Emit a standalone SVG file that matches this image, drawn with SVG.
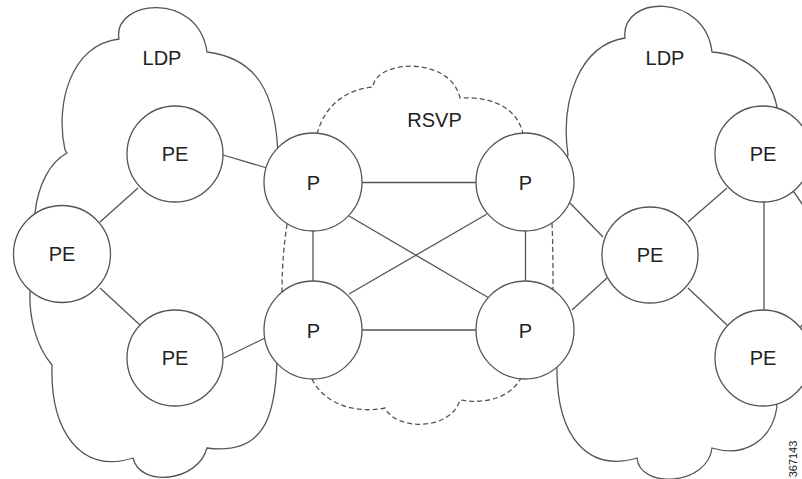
<svg xmlns="http://www.w3.org/2000/svg" width="802" height="479" viewBox="0 0 802 479">
<style>
.cloud{fill:none;stroke:#555;stroke-width:1.3}
.dash{fill:none;stroke:#555;stroke-width:1.3;stroke-dasharray:5,3}
.edge{stroke:#555;stroke-width:1.3}
.node circle{fill:#fff;stroke:#555;stroke-width:1.3}
.lbl{font-family:"Liberation Sans",Arial,sans-serif;font-size:20px;fill:#222;text-anchor:middle}
</style>
<rect width="802" height="479" fill="#fff"/>
<g id="clouds">
<path id="ldp-left-cloud" class="cloud" d="M277,358 C276,420 262,455 207,448 C198,482 140,488 133,458 C80,475 50,430 52,365 C35,345 29,315 30,292 L35,213 C38,185 50,162 67,153 L65,150 C55,105 70,45 119,39 C112,0 198,-10 207,52 C255,58 277,90 278,160"/>
<path id="ldp-right-cloud" class="cloud" d="M565,162 L568,155 C560,100 580,45 625,38 C620,-5 705,-8 712,52 C750,55 775,80 778,115"/>
<path class="cloud" d="M788,185 C828,230 828,290 796,334"/>
<path class="cloud" d="M775,400 L777,407 C772,440 745,458 712,448 C708,485 640,490 637,458 C590,472 555,440 557,362"/>
<path id="rsvp-cloud" class="dash" d="M317,134 C325,105 345,90 373,87 C375,60 450,55 460,98 C495,96 518,110 523,134"/>
<path class="dash" d="M287,224 C284,245 282,265 282,292"/>
<path class="dash" d="M552,223 C553,245 553,268 553,290"/>
<path class="dash" d="M312,379 C322,400 350,415 385,408 C395,430 450,432 460,400 C490,405 512,395 521,378"/>
</g>
<g id="connectors">
<line class="edge" x1="223" y1="155" x2="267" y2="168"/>
<line class="edge" x1="138" y1="188" x2="100" y2="222"/>
<line class="edge" x1="100" y1="288" x2="140" y2="325"/>
<line class="edge" x1="224" y1="358" x2="265" y2="338"/>
<line class="edge" x1="362" y1="182.5" x2="477" y2="182.5"/>
<line class="edge" x1="362" y1="330" x2="477" y2="330"/>
<line class="edge" x1="313" y1="231" x2="313" y2="282"/>
<line class="edge" x1="525.5" y1="231" x2="525.5" y2="282"/>
<line class="edge" x1="349" y1="216" x2="489" y2="298"/>
<line class="edge" x1="487" y1="214" x2="349" y2="294"/>
<line class="edge" x1="570" y1="203" x2="603" y2="237"/>
<line class="edge" x1="572" y1="310" x2="607" y2="278"/>
<line class="edge" x1="688" y1="222" x2="727" y2="188"/>
<line class="edge" x1="688" y1="288" x2="727" y2="325"/>
<line class="edge" x1="764" y1="202" x2="764" y2="310"/>
</g>
<g id="pe-top-left" class="node"><circle cx="175" cy="154" r="48"/><text class="lbl" x="175" y="161">PE</text></g>
<g id="pe-left" class="node"><circle cx="62" cy="254" r="48.5"/><text class="lbl" x="62" y="261">PE</text></g>
<g id="pe-bottom-left" class="node"><circle cx="175" cy="358" r="48"/><text class="lbl" x="175" y="365">PE</text></g>
<g id="p-top-left" class="node"><circle cx="313" cy="182" r="49"/><text class="lbl" x="313.5" y="190">P</text></g>
<g id="p-top-right" class="node"><circle cx="525" cy="182" r="49"/><text class="lbl" x="525.5" y="190">P</text></g>
<g id="p-bottom-left" class="node"><circle cx="313" cy="330" r="49"/><text class="lbl" x="313.5" y="338">P</text></g>
<g id="p-bottom-right" class="node"><circle cx="525" cy="330" r="49"/><text class="lbl" x="525.5" y="338">P</text></g>
<g id="pe-mid-right" class="node"><circle cx="650" cy="255" r="48"/><text class="lbl" x="650" y="262">PE</text></g>
<g id="pe-top-right" class="node"><circle cx="763" cy="154" r="48"/><text class="lbl" x="763" y="161">PE</text></g>
<g id="pe-bottom-right" class="node"><circle cx="763" cy="358" r="48"/><text class="lbl" x="763" y="365">PE</text></g>
<g id="labels">
<text class="lbl" x="162" y="65">LDP</text>
<text class="lbl" x="665" y="65">LDP</text>
<text class="lbl" x="434.5" y="127">RSVP</text>
<text transform="translate(797,459) rotate(-90)" x="0" y="0" style="font-family:'Liberation Sans',Arial,sans-serif;font-size:11px;fill:#222;text-anchor:middle">367143</text>
</g>
</svg>
